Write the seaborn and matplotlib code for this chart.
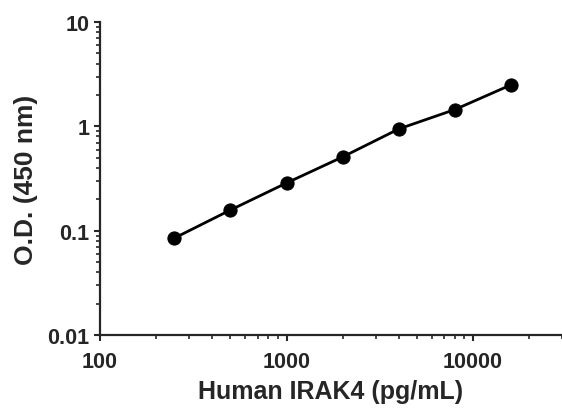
import numpy as np
import pandas as pd
import matplotlib
matplotlib.use("Agg")
import matplotlib.pyplot as plt
import seaborn as sns
from matplotlib.ticker import LogLocator, FixedLocator, FixedFormatter, NullFormatter

# Standard curve values
conc = [250, 500, 1000, 2000, 4000, 8000, 16000]
od = [0.085, 0.158, 0.287, 0.51, 0.945, 1.45, 2.5]

x_ticks = [100, 1000, 10000]
x_labels = ["100", "1000", "10000"]
y_ticks = [0.01, 0.1, 1, 10]
y_labels = ["0.01", "0.1", "1", "10"]

df = pd.DataFrame({"conc": conc, "od": od})

sns.set_style("ticks")
plt.rcParams["font.family"] = ["Liberation Sans", "DejaVu Sans"]
plt.rcParams["font.weight"] = "bold"

fig = plt.figure(figsize=(5.62, 4.10), dpi=100)
ax = fig.add_axes([0.178, 0.180, 0.822, 0.764])

sns.lineplot(data=df, x="conc", y="od", color="black", linewidth=2, ax=ax)
sns.scatterplot(data=df, x="conc", y="od", color="black", s=90, edgecolor="black",
                ax=ax, zorder=3, clip_on=False)

ax.set_xscale("log")
ax.set_yscale("log")
ax.set_xlim(100, 30000)
ax.set_ylim(0.01, 10)

ax.xaxis.set_major_locator(FixedLocator(x_ticks))
ax.xaxis.set_major_formatter(FixedFormatter(x_labels))
ax.yaxis.set_major_locator(FixedLocator(y_ticks))
ax.yaxis.set_major_formatter(FixedFormatter(y_labels))
ax.xaxis.set_minor_locator(LogLocator(base=10, subs=np.arange(2, 10)))
ax.yaxis.set_minor_locator(LogLocator(base=10, subs=np.arange(2, 10)))
ax.xaxis.set_minor_formatter(NullFormatter())
ax.yaxis.set_minor_formatter(NullFormatter())

for s in ["top", "right"]:
    ax.spines[s].set_visible(False)
for s in ["left", "bottom"]:
    ax.spines[s].set_linewidth(1.6)

ax.tick_params(which="major", length=4.5, width=1.5, labelsize=15.5)
ax.tick_params(axis="x", which="major", pad=7)
ax.tick_params(axis="y", which="major", pad=3)
ax.tick_params(which="minor", length=2.8, width=1.2)

ax.set_xlabel("Human IRAK4 (pg/mL)", fontsize=18, fontweight="bold", labelpad=5)
ax.set_ylabel("O.D. (450 nm)", fontsize=19, fontweight="bold", labelpad=7)

fig.savefig("out.png", dpi=100)
